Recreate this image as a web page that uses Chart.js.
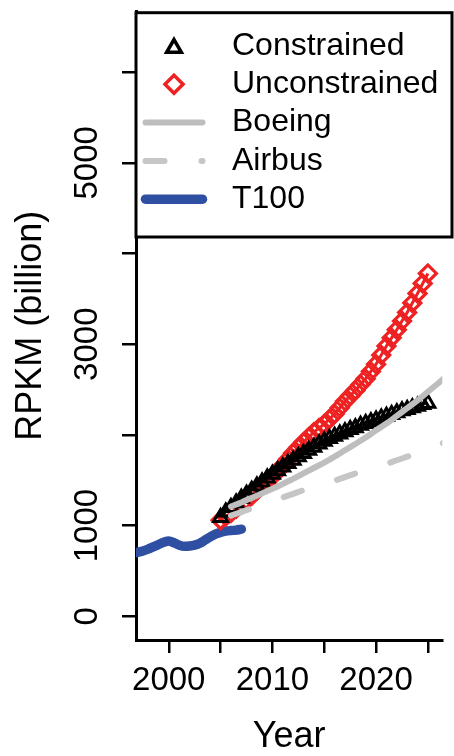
<!DOCTYPE html>
<html><head><meta charset="utf-8">
<script src="https://cdn.jsdelivr.net/npm/chart.js@4/dist/chart.umd.min.js"></script>
<style>html,body{margin:0;padding:0;background:#fff;}canvas{display:block;}</style>
</head><body>
<canvas id="c" width="454" height="756" style="width:454px;height:756px"></canvas>
<script>
const seriesNames = ['Constrained', 'Unconstrained', 'Boeing', 'Airbus', 'T100'];
const forecastYears = [2005, 2005.5, 2006, 2006.5, 2007, 2007.5, 2008, 2008.5, 2009, 2009.5,
  2010, 2010.5, 2011, 2011.5, 2012, 2012.5, 2013, 2013.5, 2014, 2014.5,
  2015, 2015.5, 2016, 2016.5, 2017, 2017.5, 2018, 2018.5, 2019, 2019.5,
  2020, 2020.5, 2021, 2021.5, 2022, 2022.5, 2023, 2023.5, 2024, 2024.5, 2025];
const constrained = [1090, 1150, 1200, 1250, 1300, 1345, 1390, 1435, 1480, 1525,
  1565, 1605, 1645, 1685, 1720, 1760, 1795, 1830, 1865, 1900,
  1930, 1960, 1985, 2010, 2035, 2060, 2080, 2105, 2125, 2145,
  2165, 2185, 2205, 2225, 2245, 2265, 2280, 2300, 2315, 2335, 2350];
const unconstrained = [1060, 1100, 1140, 1185, 1230, 1280, 1330, 1385, 1440, 1490,
  1540, 1600, 1660, 1730, 1800, 1860, 1920, 1975, 2030, 2075,
  2120, 2175, 2230, 2300, 2370, 2430, 2490, 2555, 2620, 2700,
  2780, 2880, 2980, 3070, 3160, 3255, 3350, 3455, 3560, 3670, 3780];
const boeingYears = [2006, 2007, 2008, 2009, 2010, 2011, 2012, 2013, 2014, 2015, 2016,
  2017, 2018, 2019, 2020, 2021, 2022, 2023, 2024, 2025, 2026, 2027];
const boeing = [1210, 1255, 1305, 1355, 1405, 1460, 1515, 1575, 1635, 1695, 1760,
  1830, 1900, 1970, 2050, 2125, 2210, 2295, 2380, 2475, 2570, 2665];
const airbusYears = [2006, 2007, 2008, 2009, 2010, 2011, 2012, 2013, 2014, 2015, 2016,
  2017, 2018, 2019, 2020, 2021, 2022, 2023, 2024, 2025, 2026, 2027];
const airbus = [1110, 1150, 1190, 1230, 1270, 1310, 1350, 1390, 1425, 1460, 1495,
  1535, 1575, 1610, 1645, 1680, 1720, 1760, 1800, 1845, 1890, 1935];
const t100Years = [1996.5, 1997, 1997.5, 1998, 1998.5, 1999, 1999.5, 2000, 2000.5, 2001, 2001.5,
  2002, 2002.5, 2003, 2003.5, 2004, 2004.5, 2005, 2005.5, 2006, 2006.5, 2007];
const t100 = [690, 705, 720, 740, 765, 790, 815, 830, 810, 785, 772,
  775, 785, 805, 840, 875, 905, 925, 938, 945, 950, 960];
const xTicks = [2000, 2005, 2010, 2015, 2020, 2025];
const xTickLabels = ['2000', '', '2010', '', '2020', ''];
const yTicks = [0, 1000, 2000, 3000, 4000, 5000, 6000];
const yTickLabels = ['0', '1000', '', '3000', '', '5000', ''];
const xTitle = 'Year';
const yTitle = 'RPKM (billion)';

const COL = { black: '#000000', red: '#EE2222', gray: '#BEBEBE', airbus: '#C6C6C6', blue: '#2F4FA2' };
const FONT = '"Liberation Sans", Arial, Helvetica, sans-serif';
const pts = (xs, ys) => xs.map((x, i) => ({ x: x, y: ys[i] }));
const AIRBUS_DASH = [19, 37];

const legendPlugin = {
  id: 'boxLegend',
  afterDatasetsDraw(chart) {
    const ctx = chart.ctx, a = chart.chartArea;
    ctx.save();
    const L = a.left, T = a.top + 1, R = 452, B = 237;
    ctx.fillStyle = '#fff';
    ctx.fillRect(L, T, R - L, B - T);
    ctx.lineWidth = 3; ctx.strokeStyle = '#000';
    ctx.strokeRect(L, T, R - L, B - T);
    const rowY = [46, 84.3, 122.6, 161, 199.2];
    const symX = 174, lx0 = 145.5, lx1 = 202.5, textX = 232;
    // Constrained: open triangle
    const r = 8.5, cy = rowY[0] + 2;
    ctx.strokeStyle = COL.black; ctx.lineWidth = 3.5; ctx.lineJoin = 'miter';
    ctx.beginPath();
    ctx.moveTo(symX, cy - r);
    ctx.lineTo(symX + Math.sin(2 * Math.PI / 3) * r, cy - Math.cos(2 * Math.PI / 3) * r);
    ctx.lineTo(symX + Math.sin(4 * Math.PI / 3) * r, cy - Math.cos(4 * Math.PI / 3) * r);
    ctx.closePath();
    ctx.stroke();
    // Unconstrained: open diamond
    ctx.strokeStyle = COL.red; ctx.lineWidth = 3.5;
    ctx.beginPath();
    ctx.moveTo(symX - 9, rowY[1]); ctx.lineTo(symX, rowY[1] - 9);
    ctx.lineTo(symX + 9, rowY[1]); ctx.lineTo(symX, rowY[1] + 9);
    ctx.closePath(); ctx.stroke();
    // Boeing line
    ctx.lineCap = 'round';
    ctx.strokeStyle = COL.gray; ctx.lineWidth = 6;
    ctx.beginPath(); ctx.moveTo(lx0, rowY[2]); ctx.lineTo(lx1, rowY[2]); ctx.stroke();
    // Airbus dashed
    ctx.strokeStyle = COL.airbus; ctx.lineWidth = 6; ctx.setLineDash(AIRBUS_DASH);
    ctx.beginPath(); ctx.moveTo(lx0, rowY[3]); ctx.lineTo(lx1, rowY[3]); ctx.stroke();
    ctx.setLineDash([]);
    // T100
    ctx.strokeStyle = COL.blue; ctx.lineWidth = 9.5;
    ctx.beginPath(); ctx.moveTo(lx0, rowY[4]); ctx.lineTo(lx1, rowY[4]); ctx.stroke();
    // labels
    ctx.fillStyle = '#000';
    ctx.font = '32px ' + FONT;
    ctx.textAlign = 'left'; ctx.textBaseline = 'middle';
    seriesNames.forEach((n, i) => ctx.fillText(n, textX, rowY[i]));
    ctx.restore();
  }
};

new Chart(document.getElementById('c'), {
  type: 'line',
  data: {
    datasets: [
      { label: seriesNames[3], data: pts(airbusYears, airbus), borderColor: COL.airbus, borderWidth: 6,
        borderDash: AIRBUS_DASH, borderCapStyle: 'round', pointRadius: 0, tension: 0.3, order: 0 },
      { label: seriesNames[2], data: pts(boeingYears, boeing), borderColor: COL.gray, borderWidth: 6,
        borderCapStyle: 'round', pointRadius: 0, tension: 0.3, order: 1 },
      { label: seriesNames[0], data: pts(forecastYears, constrained), borderColor: COL.black, borderWidth: 2,
        pointStyle: 'triangle', pointRadius: 8, pointBorderWidth: 3, pointBorderColor: COL.black,
        pointBackgroundColor: 'rgba(0,0,0,0)', showLine: true, tension: 0, order: 2 },
      { label: seriesNames[1], data: pts(forecastYears, unconstrained), borderColor: COL.red, borderWidth: 3,
        pointStyle: 'rectRot', pointRadius: 8.5, pointBorderWidth: 3.2, pointBorderColor: COL.red,
        pointBackgroundColor: 'rgba(0,0,0,0)', showLine: true, tension: 0, order: 3 },
      { label: seriesNames[4], data: pts(t100Years, t100), borderColor: COL.blue, borderWidth: 9.5,
        borderCapStyle: 'round', borderJoinStyle: 'round', pointRadius: 0, cubicInterpolationMode: 'monotone',
        clip: 0, order: 4 }
    ]
  },
  options: {
    responsive: false, animation: false, devicePixelRatio: 1,
    layout: { padding: { top: 6, left: 0, right: 0, bottom: 0 } },
    plugins: { legend: { display: false }, tooltip: { enabled: false } },
    scales: {
      x: {
        type: 'linear', position: 'bottom', min: 1996.84, max: 2026.39,
        afterBuildTicks: s => { s.ticks = xTicks.map(v => ({ value: v })); },
        afterFit: s => { s.height = 116; s.paddingLeft = 0; s.paddingRight = 0; s.paddingTop = 0; s.paddingBottom = 0; },
        border: { display: true, color: '#000', width: 3 },
        grid: { display: true, drawOnChartArea: false, drawTicks: true, tickLength: 13, tickColor: '#000', tickWidth: 2.5, color: '#000', lineWidth: 2.5 },
        ticks: { autoSkip: false, minRotation: 0, maxRotation: 0, padding: 8, color: '#000',
          font: { family: FONT, size: 33 },
          callback: v => { const i = xTicks.indexOf(v); return i >= 0 ? xTickLabels[i] : ''; } },
        title: { display: true, text: xTitle, color: '#000', font: { family: FONT, size: 36, lineHeight: 1 }, padding: { top: 0, bottom: 1 } }
      },
      y: {
        type: 'linear', position: 'left', min: -262, max: 6667,
        afterBuildTicks: s => { s.ticks = yTicks.map(v => ({ value: v })); },
        afterFit: s => { s.width = 136; s.paddingLeft = 0; s.paddingRight = 0; s.paddingTop = 0; s.paddingBottom = 0; },
        border: { display: true, color: '#000', width: 3 },
        grid: { display: true, drawOnChartArea: false, drawTicks: true, tickLength: 14, tickColor: '#000', tickWidth: 2.5, color: '#000', lineWidth: 2.5 },
        ticks: { autoSkip: false, minRotation: 90, maxRotation: 90, crossAlign: 'center', padding: -2.7, color: '#000',
          font: { family: FONT, size: 33 },
          callback: v => { const i = yTicks.indexOf(v); return i >= 0 ? yTickLabels[i] : ''; } },
        title: { display: true, text: yTitle, color: '#000', font: { family: FONT, size: 36, lineHeight: 1 }, padding: { top: 13.5, bottom: 0 } }
      }
    }
  },
  plugins: [legendPlugin]
});
</script>
</body></html>
